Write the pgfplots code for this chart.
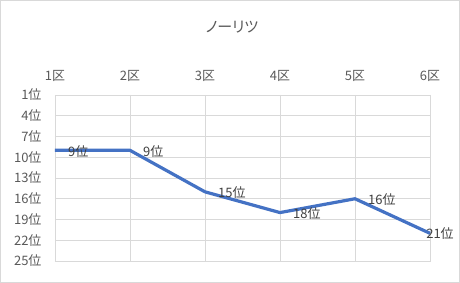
\documentclass[border=0pt]{standalone}
\usepackage{fontspec}
\setmainfont{Noto Sans CJK JP}
\newfontfamily\titlefont[RawFeature=+palt]{Noto Sans CJK JP}
\usepackage{pgfplots}
\pgfplotsset{compat=1.18}
\definecolor{linec}{HTML}{4472C4}
\definecolor{txt}{HTML}{595959}
\definecolor{lbl}{HTML}{404040}
\definecolor{gridc}{HTML}{D9D9D9}
\begin{document}
\begin{tikzpicture}[x=1pt,y=1pt]
\draw[gridc,line width=0.8pt] (0.5,0.5) rectangle (459.5,282.5);
\path[use as bounding box] (0,0) rectangle (460,283);
\begin{axis}[
  at={(55pt,22pt)}, anchor=south west,
  scale only axis, width=375pt, height=166pt,
  xmin=1, xmax=6, ymin=1, ymax=25, y dir=reverse,
  xtick={1,2,3,4,5,6}, xticklabels={1区,2区,3区,4区,5区,6区},
  ytick={1,4,7,10,13,16,19,22,25},
  yticklabels={1位,4位,7位,10位,13位,16位,19位,22位,25位},
  xticklabel pos=upper,
  grid=major, major grid style={gridc, line width=0.8pt},
  axis line style={gridc, line width=0.8pt},
  tick style={draw=none},
  ticklabel style={txt, font=\fontsize{13}{15}\selectfont},
  xticklabel style={yshift=10pt},
  yticklabel style={xshift=-10pt},
  clip=false,
]
\addplot[linec, line width=3.2pt, line join=round] coordinates {(1,9) (2,9) (3,15) (4,18) (5,16) (6,21)};
\addplot[draw=none, mark=none, nodes near coords, point meta=explicit symbolic,
  every node near coord/.append style={anchor=west, xshift=13pt, yshift=-1pt, lbl, font=\fontsize{13}{15}\selectfont, inner sep=0pt}]
  coordinates {(1,9)[9位] (2,9)[9位] (3,15)[15位] (4,18)[18位] (5,16)[16位]};
\addplot[draw=none, mark=none, nodes near coords, point meta=explicit symbolic,
  every node near coord/.append style={anchor=center, xshift=10pt, yshift=0pt, lbl, font=\fontsize{13}{15}\selectfont, inner sep=0pt}]
  coordinates {(6,21)[21位]};
\end{axis}
\node[txt,font=\titlefont\fontsize{15}{17}\selectfont] at (232,255.5) {ノーリツ};
\end{tikzpicture}
\end{document}
